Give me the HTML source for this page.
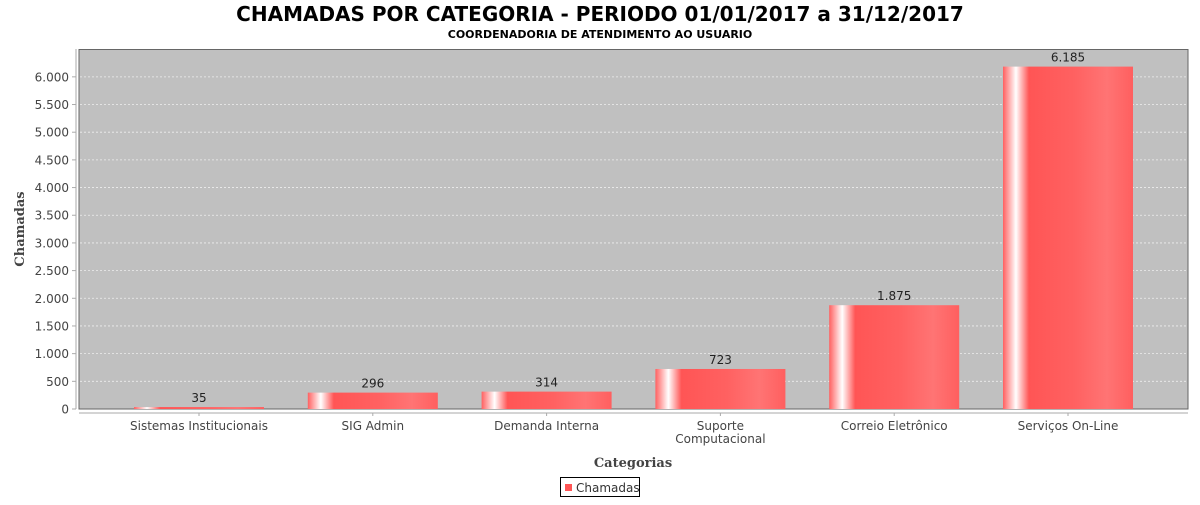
<!DOCTYPE html>
<html><head><meta charset="utf-8"><style>
body{margin:0;background:#fff;font-family:"Liberation Sans","DejaVu Sans",sans-serif;}
</style></head><body>
<svg width="1200" height="500" xmlns="http://www.w3.org/2000/svg" style="font-family:'DejaVu Sans','Liberation Sans',sans-serif">
<defs>
<linearGradient id="bg" x1="0" x2="1" y1="0" y2="0">
<stop offset="0" stop-color="#ff6060"/>
<stop offset="0.1" stop-color="#ffffff"/>
<stop offset="0.2" stop-color="#ff5555"/>
<stop offset="0.55" stop-color="#ff6161"/>
<stop offset="0.8" stop-color="#ff7474"/>
<stop offset="1" stop-color="#ff5f5f"/>
</linearGradient>
</defs>
<text x="600" y="21" text-anchor="middle" font-size="20" font-weight="bold" fill="#000">CHAMADAS POR CATEGORIA - PERIODO 01/01/2017 a 31/12/2017</text>
<text x="600" y="38" text-anchor="middle" font-size="11" font-weight="bold" fill="#000">COORDENADORIA DE ATENDIMENTO AO USUARIO</text>
<rect x="79" y="49.5" width="1109" height="359.5" fill="#c0c0c0" stroke="#666"/>
<g id="grid"></g>
<g id="bars"></g>
<line x1="76" y1="49" x2="76" y2="409" stroke="#aaa"/>
<line x1="79" y1="413" x2="1188" y2="413" stroke="#aaa"/>
<g id="yticks" font-size="12" fill="#444"></g>
<g id="xticks" font-size="12" fill="#444"></g>
<text transform="translate(24,229) rotate(-90)" text-anchor="middle" font-size="13" font-weight="bold" font-family="'DejaVu Serif','Liberation Serif',serif" fill="#444">Chamadas</text>
<text x="633" y="467" text-anchor="middle" font-size="13" font-weight="bold" font-family="'DejaVu Serif','Liberation Serif',serif" fill="#444">Categorias</text>
<g>
<rect x="560.5" y="477.5" width="79" height="19" fill="#fff" stroke="#000"/>
<rect x="565" y="484" width="7" height="7" fill="#ff5555"/>
<text x="576" y="492" font-size="12" fill="#333">Chamadas</text>
</g>
</svg>
<script>
const categories=[["Sistemas Institucionais"],["SIG Admin"],["Demanda Interna"],["Suporte","Computacional"],["Correio Eletrônico"],["Serviços On-Line"]];
const values=[35,296,314,723,1875,6185];
const valueLabels=["35","296","314","723","1.875","6.185"];
const yTicks=[0,500,1000,1500,2000,2500,3000,3500,4000,4500,5000,5500,6000];
const yTickLabels=["0","500","1.000","1.500","2.000","2.500","3.000","3.500","4.000","4.500","5.000","5.500","6.000"];
const NS="http://www.w3.org/2000/svg";
const y0=409,yMax=6494,plotTop=49.5;
function y(v){return y0-(v/yMax)*(y0-plotTop);}
const firstC=199,step=173.8,bw=130;
function xc(i){return firstC+i*step;}
function mk(t,a,p){const e=document.createElementNS(NS,t);for(const k in a)e.setAttribute(k,a[k]);p.appendChild(e);return e;}
const grid=document.getElementById('grid'),yt=document.getElementById('yticks'),xt=document.getElementById('xticks'),bars=document.getElementById('bars');
yTicks.forEach((v,i)=>{
 if(v>0){const g=mk('line',{x1:80,x2:1187,y1:y(v),y2:y(v),stroke:'#eee','stroke-dasharray':'2,2','stroke-width':0.8},grid);
 
 }
 const tk=mk('line',{x1:72,x2:76,y1:y(v),y2:y(v),stroke:'#aaa'},yt);
 
 
 const t=mk('text',{x:69,y:y(v)+4.5,'text-anchor':'end'},yt);t.textContent=yTickLabels[i];
 
 
});
values.forEach((v,i)=>{
 const cx=xc(i);
 const r=mk('rect',{x:cx-bw/2,y:y(v),width:bw,height:y0-y(v),fill:'url(#bg)'},bars);
 
 
 const l=mk('text',{x:cx,y:y(v)-5,'text-anchor':'middle','font-size':12,fill:'#222'},bars);l.textContent=valueLabels[i];
 
 
 const tk=mk('line',{x1:cx,x2:cx,y1:413,y2:416,stroke:'#aaa'},xt);
 
 
 categories[i].forEach((s,j)=>{const t=mk('text',{x:cx,y:430+j*13,'text-anchor':'middle'},xt);t.textContent=s;
 
 });
});
</script>
</body></html>
